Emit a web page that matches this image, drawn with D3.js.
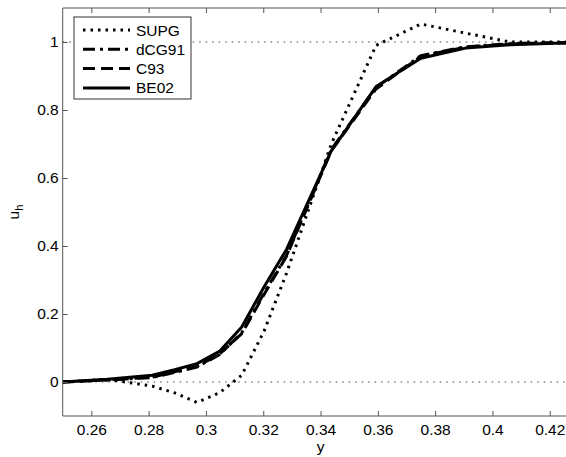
<!DOCTYPE html>
<html>
<head>
<meta charset="utf-8">
<script src="https://cdn.jsdelivr.net/npm/d3@7"></script>
<style>
  body { margin: 0; background: #fff; }
  text { font-family: "Liberation Sans", Arial, sans-serif; }
</style>
</head>
<body>
<script>
// mesh nodes and the four solutions
var nodes  = [0.25, 0.265625, 0.28125, 0.2890625, 0.296875, 0.3046875, 0.3125, 0.3203125,
              0.328125, 0.34375, 0.359375, 0.375, 0.390625, 0.40625, 0.421875, 0.4375];
var supg   = [0.0, 0.008, -0.012, -0.032, -0.060, -0.032, 0.020, 0.150,
              0.320, 0.700, 0.990, 1.053, 1.026, 1.000, 1.000, 1.000];
var dcg91  = [0.0, 0.006, 0.013, 0.028, 0.044, 0.080, 0.145, 0.262,
              0.372, 0.684, 0.866, 0.960, 0.986, 0.995, 0.998, 1.000];
var c93    = [0.0, 0.006, 0.014, 0.030, 0.046, 0.082, 0.142, 0.258,
              0.370, 0.680, 0.862, 0.958, 0.985, 0.994, 0.998, 1.000];
var be02   = [0.0, 0.008, 0.020, 0.036, 0.054, 0.090, 0.162, 0.280,
              0.390, 0.680, 0.869, 0.952, 0.982, 0.992, 0.996, 0.998];

var seriesNames = ["SUPG", "dCG91", "C93", "BE02"];
var seriesDash  = ["2.5,5", "12,5,3,5", "12,6", null];
var xTicks = [0.26, 0.28, 0.3, 0.32, 0.34, 0.36, 0.38, 0.4, 0.42];
var yTicks = [0, 0.2, 0.4, 0.6, 0.8, 1];
var refLevels = [0, 1];

// note: "top" is taken by window.top, so the margins get their own names
var width = 566, height = 457,
    plotLeft = 62.7, plotTop = 8, plotBottom = 416;

var x = d3.scaleLinear().domain([0.25, 0.43]).range([plotLeft, plotLeft + 0.18 * 2865]);
var y = d3.scaleLinear().domain([-0.1, 1.1]).range([plotBottom, plotTop]);

var svg = d3.select("body").append("svg")
    .attr("width", width)
    .attr("height", height);

svg.append("defs").append("clipPath").attr("id", "clip")
  .append("rect")
    .attr("x", plotLeft).attr("y", plotTop)
    .attr("width", width - plotLeft).attr("height", plotBottom - plotTop);

var plot = svg.append("g").attr("clip-path", "url(#clip)");

// thin dotted guide lines at 0 and 1
plot.selectAll(".ref")
    .data(refLevels)
    .enter().append("line")
    .attr("x1", plotLeft).attr("x2", width)
    .attr("y1", function(d) { return y(d); })
    .attr("y2", function(d) { return y(d); })
    .style("stroke", "#444")
    .style("stroke-width", 1)
    .style("stroke-dasharray", "1.5,5");

var allSeries = [supg, dcg91, c93, be02];
var line = d3.line()
    .x(function(d, i) { return x(nodes[i]); })
    .y(function(d) { return y(d); });

plot.selectAll(".curve")
    .data(allSeries)
    .enter().append("path")
    .attr("d", line)
    .style("fill", "none")
    .style("stroke", "#000")
    .style("stroke-width", 3)
    .style("stroke-linejoin", "round")
    .style("stroke-dasharray", function(d, i) { return seriesDash[i]; });

// axes: ticks pointing inwards, box on top/bottom/left
var axisColor = "#555";
var xAxis = d3.axisBottom(x).tickValues(xTicks).tickSize(-5).tickPadding(8)
    .tickFormat(function(d) { return String(+d.toFixed(2)); });
var xAxisTop = d3.axisTop(x).tickValues(xTicks).tickSize(-5).tickFormat("");
var yAxis = d3.axisLeft(y).tickValues(yTicks).tickSize(-5).tickPadding(4)
    .tickFormat(function(d) { return String(+d.toFixed(1)); });

function styleAxis(g) {
  g.select(".domain").remove();
  g.selectAll(".tick line").style("stroke", axisColor);
  g.selectAll(".tick text")
      .style("font-size", "15.5px")
      .style("font-family", "Liberation Sans, Arial, sans-serif")
      .style("fill", "#000");
}

svg.append("g").attr("transform", "translate(0," + plotBottom + ")").call(xAxis).call(styleAxis);
svg.append("g").attr("transform", "translate(0," + plotTop + ")").call(xAxisTop).call(styleAxis);
svg.append("g").attr("transform", "translate(" + plotLeft + ",0)").call(yAxis).call(styleAxis);

svg.append("path")
    .attr("d", "M" + width + "," + plotTop + "H" + plotLeft + "V" + plotBottom + "H" + width)
    .style("fill", "none")
    .style("stroke", axisColor)
    .style("stroke-width", 1);

// axis labels
svg.append("text")
    .attr("x", x(0.34)).attr("y", 452)
    .attr("text-anchor", "middle")
    .style("font-size", "15.5px")
    .text("y");

var ylab = svg.append("text")
    .attr("transform", "translate(19,212) rotate(-90)")
    .attr("text-anchor", "middle")
    .style("font-size", "15.5px");
ylab.append("tspan").text("u");
ylab.append("tspan").attr("dy", 4).style("font-size", "11px").text("h");

// legend
var legend = svg.append("g").attr("transform", "translate(74,17)");
legend.append("rect")
    .attr("width", 117).attr("height", 82)
    .style("fill", "#fff")
    .style("stroke", "#333")
    .style("stroke-width", 1);

var rows = legend.selectAll(".row")
    .data(seriesNames)
    .enter().append("g")
    .attr("transform", function(d, i) { return "translate(0," + (13 + i * 19.3) + ")"; });

rows.append("line")
    .attr("x1", 9).attr("x2", 56)
    .style("stroke", "#000")
    .style("stroke-width", 3)
    .style("stroke-dasharray", function(d, i) { return seriesDash[i]; });

rows.append("text")
    .attr("x", 62).attr("dy", "0.36em")
    .style("font-size", "15.5px")
    .text(function(d) { return d; });
</script>
</body>
</html>
